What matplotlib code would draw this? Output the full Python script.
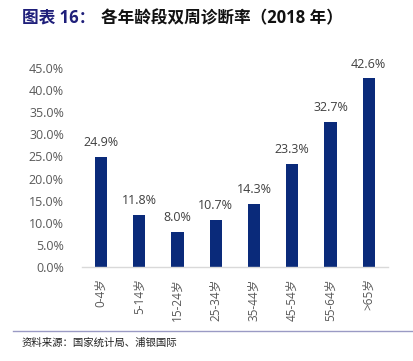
import matplotlib
matplotlib.use('Agg')
import matplotlib.pyplot as plt
from matplotlib.lines import Line2D

# Data
age_groups = ['0-4岁', '5-14岁', '15-24岁', '25-34岁', '35-44岁', '45-54岁', '55-64岁', '>65岁']
rates = [24.9, 11.8, 8.0, 10.7, 14.3, 23.3, 32.7, 42.6]
y_ticks = [0, 5, 10, 15, 20, 25, 30, 35, 40, 45]

plt.rcParams['font.family'] = ['Open Sans', 'Noto Sans CJK SC', 'DejaVu Sans']

fig = plt.figure(figsize=(4.14, 3.61), dpi=100)
ax = fig.add_axes([0.198, 0.260, 0.739, 0.552])

x = range(len(age_groups))
bars = ax.bar(x, rates, width=0.32, color='#0a2a7a')

for xi, v in zip(x, rates):
    ax.text(xi, v + 1.8, f'{v:.1f}%', ha='center', va='bottom',
            fontsize=9, color='#404040')

ax.set_xlim(-0.5, len(age_groups) - 0.5)
ax.set_ylim(0, 45)
ax.set_yticks(y_ticks)
ax.set_yticklabels([f'{t:.1f}%' for t in y_ticks], fontsize=9, color='#595959')
ax.set_xticks(list(x))
ax.set_xticklabels(age_groups, rotation=90, fontsize=8.5, color='#595959')
ax.tick_params(axis='both', length=0, pad=8)
ax.tick_params(axis='y', pad=13)

for side in ['top', 'right', 'left']:
    ax.spines[side].set_visible(False)
ax.spines['bottom'].set_color('#d9d9d9')
ax.spines['bottom'].set_linewidth(1)

# Title
fig.text(22 / 414, 1 - 18 / 361, '图表 16：', fontsize=12, fontweight='bold',
         color='#1f1f7a', va='center', ha='left')
fig.text(101 / 414, 1 - 18 / 361, '各年龄段双周诊断率（2018 年）', fontsize=12,
         fontweight='bold', color='#111111', va='center', ha='left')

# Bottom separator and source
fig.add_artist(Line2D([13 / 414, 1], [1 - 331 / 361] * 2, color='#9a9ac4', linewidth=1))
fig.text(22 / 414, 1 - 343 / 361, '资料来源：国家统计局、浦银国际', fontsize=7.5,
         color='#222222', va='center', ha='left')

fig.savefig('out.png', dpi=100)
